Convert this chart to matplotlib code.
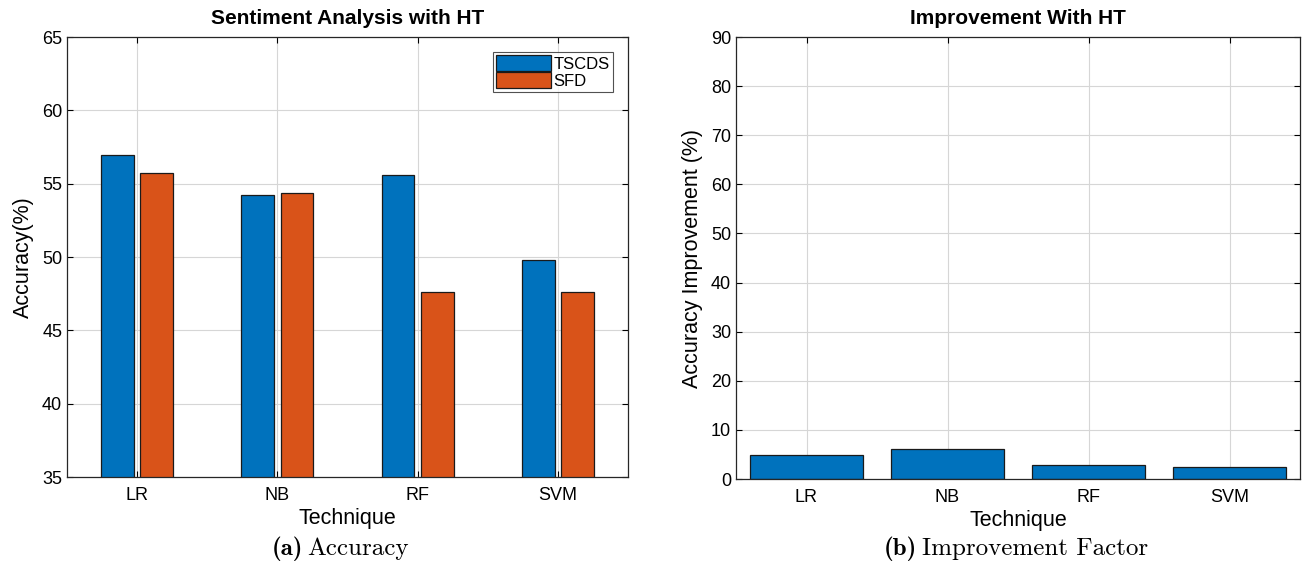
import matplotlib
matplotlib.use("Agg")
import matplotlib.pyplot as plt
import numpy as np

# data
techniques = ["LR", "NB", "RF", "SVM"]
acc_tscds = [56.95, 54.25, 55.6, 49.8]
acc_sfd = [55.7, 54.35, 47.6, 47.6]
improvement = [4.8, 6.1, 2.8, 2.5]

blue = "#0072BD"
orange = "#D95319"

plt.rcParams['font.family'] = ['Liberation Sans', 'DejaVu Sans']

fig = plt.figure(figsize=(13.03, 5.66), dpi=100)
W, H = 1303, 566


def style_axes(ax):
    ax.set_axisbelow(True)
    ax.grid(True, color="#d6d6d6", linewidth=0.8)
    ax.tick_params(direction="in", top=True, right=True, length=4,
                   labelsize=13, width=0.8)
    ax.tick_params(axis="x", pad=7)
    for s in ax.spines.values():
        s.set_linewidth(0.9)
        s.set_color("#262626")


# ======= left: accuracy =======
ax1 = fig.add_axes([67 / W, 1 - 477 / H, (628 - 67) / W, (477 - 37) / H])
x = np.arange(1, len(techniques) + 1)
bw = 0.235
ax1.bar(x - 0.14, acc_tscds, bw, color=blue, edgecolor="#1a1a1a",
        linewidth=0.9, label="TSCDS")
ax1.bar(x + 0.14, acc_sfd, bw, color=orange, edgecolor="#1a1a1a",
        linewidth=0.9, label="SFD")
ax1.set_xlim(0.5, 4.5)
ax1.set_ylim(35, 65)
ax1.set_yticks(np.arange(35, 66, 5))
ax1.set_xticks(x)
ax1.set_xticklabels(techniques)
style_axes(ax1)
ax1.set_title("Sentiment Analysis with HT", fontsize=15, fontweight="bold", pad=9)
ax1.set_xlabel("Technique", fontsize=15.5, labelpad=3)
ax1.set_ylabel("Accuracy(%)", fontsize=15.5, labelpad=6)
leg = ax1.legend(loc="upper right", fontsize=12, frameon=True, fancybox=False,
                 edgecolor="#262626", borderpad=0.2, handlelength=3.3,
                 handleheight=1.1, handletextpad=0.15, labelspacing=0.0,
                 borderaxespad=0.9)
leg.get_frame().set_linewidth(0.8)

# ======= right: improvement =======
ax2 = fig.add_axes([736 / W, 1 - 479 / H, (1300 - 736) / W, (479 - 37) / H])
ax2.bar(x, improvement, 0.8, color=blue, edgecolor="#1a1a1a", linewidth=0.9)
ax2.set_xlim(0.5, 4.5)
ax2.set_ylim(0, 90)
ax2.set_yticks(np.arange(0, 91, 10))
ax2.set_xticks(x)
ax2.set_xticklabels(techniques)
style_axes(ax2)
ax2.set_title("Improvement With HT", fontsize=15, fontweight="bold", pad=9)
ax2.set_xlabel("Technique", fontsize=15.5, labelpad=3)
ax2.set_ylabel("Accuracy Improvement (%)", fontsize=15.5, labelpad=6)

# captions: bold label + roman text
cy = 1 - 549 / H
fig.text(303 / W, cy, "(a)", ha="right", va="center", fontsize=18, family="cmb10")
fig.text(307 / W, cy, "Accuracy", ha="left", va="center", fontsize=18, family="cmr10")
fig.text(917 / W, cy, "(b)", ha="right", va="center", fontsize=18, family="cmb10")
fig.text(922 / W, cy, "Improvement Factor", ha="left", va="center", fontsize=18,
         family="cmr10")

fig.savefig("out.png", dpi=100)
